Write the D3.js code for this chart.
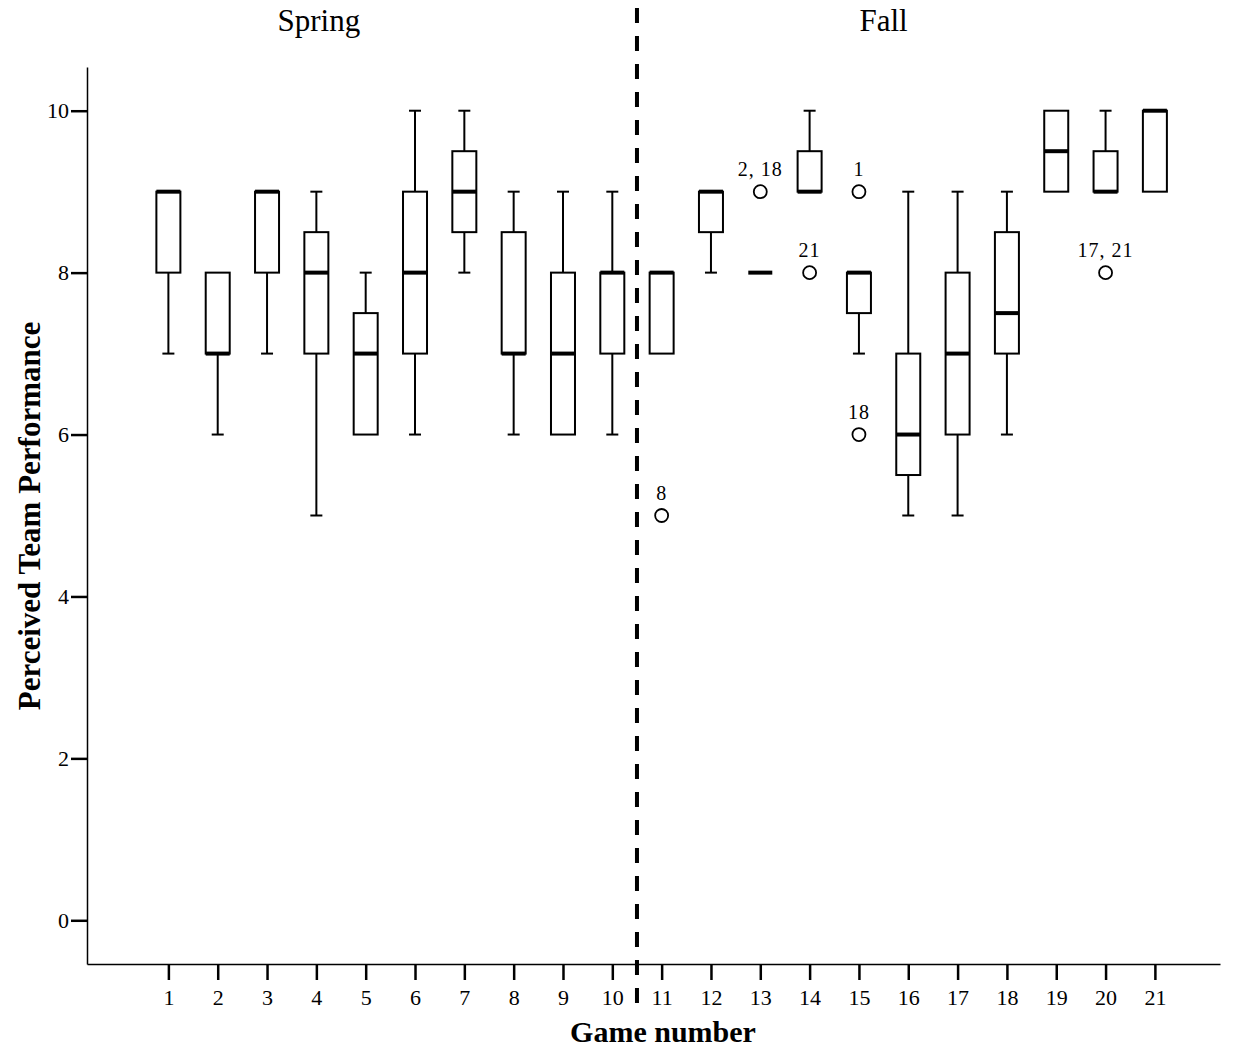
<!DOCTYPE html>
<html>
<head>
<meta charset="utf-8">
<script src="https://cdn.jsdelivr.net/npm/d3@7"></script>
<style>
  body { margin: 0; background: #fff; }
  svg { display: block; font-family: "Liberation Serif", "Times New Roman", serif; }
</style>
</head>
<body>
<svg id="chart" width="1236" height="1049"></svg>
<script>
// ---- Data ----
const games   = [1,2,3,4,5,6,7,8,9,10,11,12,13,14,15,16,17,18,19,20,21];
const mins    = [7,6,7,5,6,6,8,6,6,6,7,8,8,9,7,5,5,6,9,9,9];
const q1s     = [8,7,8,7,6,7,8.5,7,6,7,7,8.5,8,9,7.5,5.5,6,7,9,9,9];
const medians = [9,7,9,8,7,8,9,7,7,8,8,9,8,9,8,6,7,7.5,9.5,9,10];
const q3s     = [9,8,9,8.5,7.5,9,9.5,8.5,8,8,8,9,8,9.5,8,7,8,8.5,10,9.5,10];
const maxs    = [9,8,9,9,8,10,10,9,9,9,8,9,8,10,8,9,9,9,10,10,10];
const outlierGames  = [11,13,14,15,15,20];
const outlierValues = [5,9,8,9,6,8];
const outlierLabels = ["8","2, 18","21","1","18","17, 21"];
const yTicks = [0,2,4,6,8,10];
const seasonLabels = ["Spring","Fall"];
const seasonCenters = [4.05, 15.5]; // game-number positions of season titles
const seasonSplit = 10.5;

const boxes = games.map((g,i)=>({g, min:mins[i], q1:q1s[i], med:medians[i], q3:q3s[i], max:maxs[i]}));
const outliers = outlierGames.map((g,i)=>({g, v:outlierValues[i], label:outlierLabels[i]}));

// ---- Scales ----
const svg = d3.select("#chart");
const x = d3.scaleLinear().domain([-0.65, 22.32]).range([87, 1220]);
const y = d3.scaleLinear().domain([-0.54, 10.54]).range([964, 67]);

const boxW = 24, capW = 12;

// ---- Axes ----
const yAxis = d3.axisLeft(y).tickValues(yTicks).tickSize(16).tickPadding(2).tickSizeOuter(0);
const gy = svg.append("g").attr("transform", "translate(87,0)").call(yAxis);
gy.select(".domain").attr("stroke", "#000").attr("stroke-width", 1.5);
gy.selectAll(".tick line").attr("stroke", "#000").attr("stroke-width", 2.5);
gy.selectAll(".tick text").attr("font-size", 22).attr("font-family", "Liberation Serif").attr("fill", "#000");

const xAxis = d3.axisBottom(x).tickValues(games).tickFormat(d3.format("d")).tickSize(16).tickPadding(9).tickSizeOuter(0);
const gx = svg.append("g").attr("transform", "translate(0,964)").call(xAxis);
gx.select(".domain").attr("stroke", "#000").attr("stroke-width", 1.5);
gx.selectAll(".tick line").attr("stroke", "#000").attr("stroke-width", 2.5);
gx.selectAll(".tick text").attr("font-size", 22).attr("font-family", "Liberation Serif").attr("fill", "#000");

// ---- Season separator ----
svg.append("line")
  .attr("x1", x(seasonSplit)).attr("x2", x(seasonSplit))
  .attr("y1", 8).attr("y2", 1003)
  .attr("stroke", "#000").attr("stroke-width", 4)
  .attr("stroke-dasharray", "15,13");

svg.selectAll("text.season").data(seasonLabels).join("text")
  .attr("class", "season")
  .attr("x", (d,i)=>x(seasonCenters[i]))
  .attr("y", 31)
  .attr("text-anchor", "middle")
  .attr("font-size", 31)
  .text(d=>d);

// ---- Boxes ----
const gb = svg.append("g");
const bg = gb.selectAll("g.box").data(boxes).join("g").attr("class", "box");

// whiskers
bg.filter(d=>d.max > d.q3).append("line")
  .attr("x1", d=>x(d.g)).attr("x2", d=>x(d.g))
  .attr("y1", d=>y(d.q3)).attr("y2", d=>y(d.max))
  .attr("stroke", "#000").attr("stroke-width", 2);
bg.filter(d=>d.max > d.q3).append("line")
  .attr("x1", d=>x(d.g)-capW/2).attr("x2", d=>x(d.g)+capW/2)
  .attr("y1", d=>y(d.max)).attr("y2", d=>y(d.max))
  .attr("stroke", "#000").attr("stroke-width", 2);
bg.filter(d=>d.min < d.q1).append("line")
  .attr("x1", d=>x(d.g)).attr("x2", d=>x(d.g))
  .attr("y1", d=>y(d.q1)).attr("y2", d=>y(d.min))
  .attr("stroke", "#000").attr("stroke-width", 2);
bg.filter(d=>d.min < d.q1).append("line")
  .attr("x1", d=>x(d.g)-capW/2).attr("x2", d=>x(d.g)+capW/2)
  .attr("y1", d=>y(d.min)).attr("y2", d=>y(d.min))
  .attr("stroke", "#000").attr("stroke-width", 2);

// box
bg.filter(d=>d.q3 > d.q1).append("rect")
  .attr("x", d=>x(d.g)-boxW/2)
  .attr("width", boxW)
  .attr("y", d=>y(d.q3))
  .attr("height", d=>y(d.q1)-y(d.q3))
  .attr("fill", "#fff").attr("stroke", "#000").attr("stroke-width", 2);

// median
bg.append("line")
  .attr("x1", d=>x(d.g)-boxW/2).attr("x2", d=>x(d.g)+boxW/2)
  .attr("y1", d=>y(d.med)).attr("y2", d=>y(d.med))
  .attr("stroke", "#000").attr("stroke-width", 4);

// ---- Outliers ----
const go = svg.append("g");
go.selectAll("circle").data(outliers).join("circle")
  .attr("cx", d=>x(d.g)).attr("cy", d=>y(d.v)).attr("r", 6.5)
  .attr("fill", "#fff").attr("stroke", "#000").attr("stroke-width", 1.8);
go.selectAll("text").data(outliers).join("text")
  .attr("x", d=>x(d.g)).attr("y", d=>y(d.v)-16)
  .attr("text-anchor", "middle")
  .attr("font-size", 20)
  .attr("letter-spacing", 1)
  .text(d=>d.label);

// ---- Axis titles ----
svg.append("text")
  .attr("x", 663).attr("y", 1042)
  .attr("text-anchor", "middle")
  .attr("font-size", 30).attr("font-weight", "bold")
  .text("Game number");

svg.append("text")
  .attr("transform", "translate(40,516) rotate(-90)")
  .attr("text-anchor", "middle")
  .attr("font-size", 31).attr("font-weight", "bold")
  .text("Perceived Team Performance");
</script>
</body>
</html>
